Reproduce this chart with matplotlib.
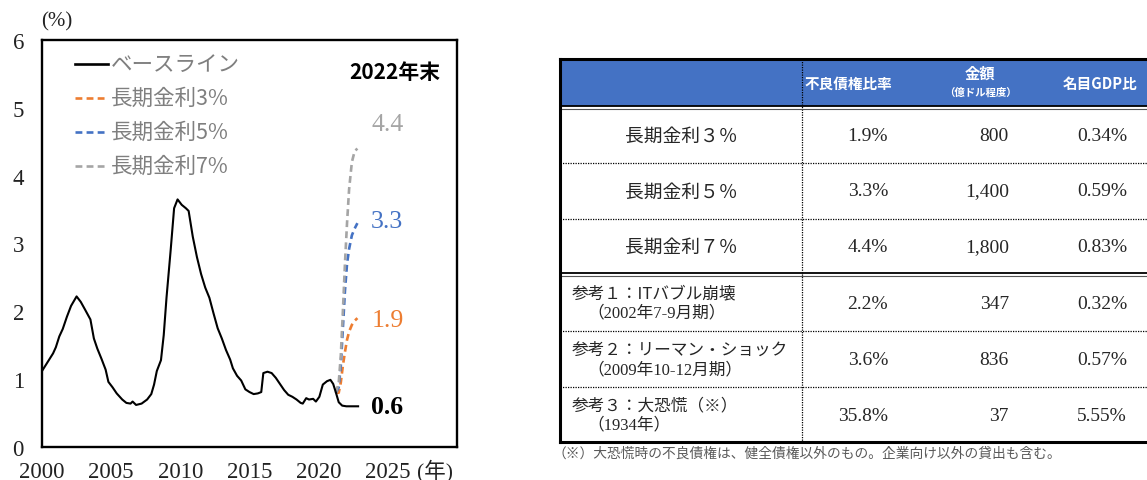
import matplotlib
matplotlib.use("Agg")
import matplotlib.pyplot as plt
from matplotlib.patches import Rectangle

plt.rcParams['font.family'] = ['Noto Sans CJK JP', 'DejaVu Sans']
SERIF = ['Liberation Serif', 'Noto Sans CJK JP']
SANS = ['Noto Sans CJK JP', 'DejaVu Sans']

# ---- Non-performing loan ratio, baseline (%) ----
base_year = [2000.00, 2000.40, 2000.80, 2001.00, 2001.25, 2001.50, 2001.80, 2002.10,
             2002.50, 2002.80, 2003.10, 2003.50, 2003.75, 2004.00, 2004.30, 2004.60,
             2004.80, 2005.10, 2005.40, 2005.80, 2006.10, 2006.40, 2006.55, 2006.80,
             2007.20, 2007.60, 2007.90, 2008.10, 2008.30, 2008.60, 2008.80, 2009.00,
             2009.30, 2009.55, 2009.80, 2010.10, 2010.40, 2010.60, 2010.90, 2011.20,
             2011.50, 2011.80, 2012.10, 2012.40, 2012.70, 2013.00, 2013.30, 2013.60,
             2013.80, 2014.10, 2014.40, 2014.70, 2015.00, 2015.30, 2015.60, 2015.85,
             2016.00, 2016.30, 2016.60, 2016.90, 2017.20, 2017.50, 2017.80, 2018.10,
             2018.40, 2018.70, 2018.85, 2019.10, 2019.30, 2019.60, 2019.80, 2020.05,
             2020.30, 2020.60, 2020.85, 2021.05, 2021.25, 2021.45, 2021.70, 2022.00,
             2022.40, 2022.85]
base_val = [1.12, 1.25, 1.38, 1.47, 1.63, 1.74, 1.92, 2.08,
            2.22, 2.14, 2.03, 1.88, 1.60, 1.45, 1.30, 1.14,
            0.96, 0.88, 0.79, 0.70, 0.65, 0.64, 0.67, 0.62,
            0.64, 0.70, 0.78, 0.92, 1.12, 1.28, 1.65, 2.20,
            2.90, 3.52, 3.65, 3.57, 3.52, 3.48, 3.10, 2.80,
            2.55, 2.35, 2.20, 1.97, 1.75, 1.60, 1.43, 1.29,
            1.16, 1.05, 0.98, 0.85, 0.81, 0.78, 0.79, 0.81,
            1.09, 1.11, 1.09, 1.02, 0.93, 0.84, 0.77, 0.74,
            0.70, 0.65, 0.64, 0.72, 0.70, 0.71, 0.67, 0.74,
            0.92, 0.97, 0.99, 0.93, 0.80, 0.66, 0.61, 0.60,
            0.60, 0.60]

# ---- Stress scenarios (long-term rate shocks) ----
scen_year = [2021.25, 2021.45, 2021.60, 2021.75, 2021.90, 2022.05, 2022.20, 2022.40, 2022.60, 2022.80]
rate3 = [0.80, 0.80, 0.95, 1.20, 1.40, 1.58, 1.70, 1.80, 1.86, 1.90]
rate5 = [0.80, 0.88, 1.20, 1.75, 2.30, 2.70, 2.92, 3.12, 3.22, 3.30]
rate7 = [0.80, 0.95, 1.35, 2.00, 2.70, 3.30, 3.80, 4.20, 4.36, 4.40]

series_labels = ["ベースライン", "長期金利3%", "長期金利5%", "長期金利7%"]
series_colors = ["#000000", "#ED7D31", "#4472C4", "#A5A5A5"]

x_ticks = [2000, 2005, 2010, 2015, 2020, 2025]
y_ticks = [0, 1, 2, 3, 4, 5, 6]

# ---- Table ----
col_headers = ["不良債権比率", "金額", "名目GDP比"]
amount_unit = "（億ドル程度）"
row_titles = ["長期金利３％", "長期金利５％", "長期金利７％",
              "参考１：ITバブル崩壊", "参考２：リーマン・ショック", "参考３：大恐慌（※）"]
row_periods = ["", "", "", "（2002年7-9月期）", "（2009年10-12月期）", "（1934年）"]
npl_ratio = [1.9, 3.3, 4.4, 2.2, 3.6, 35.8]
amount = [800, 1400, 1800, 347, 836, 37]
gdp_ratio = [0.34, 0.59, 0.83, 0.32, 0.57, 5.55]
footnote = "（※）大恐慌時の不良債権は、健全債権以外のもの。企業向け以外の貸出も含む。"

W, H = 1147, 481
fig = plt.figure(figsize=(W / 100, H / 100), dpi=100)
fig.patch.set_facecolor("white")

# ================= chart =================
ax = fig.add_axes([42 / W, (H - 448) / H, 415 / W, 407 / H])
ax.set_xlim(2000, 2030)
ax.set_ylim(0, 6)
ax.set_xticks(x_ticks)
ax.set_yticks(y_ticks)
ax.tick_params(length=0, labelsize=16.5, colors="#222222")
ax.tick_params(axis="y", pad=13)
ax.tick_params(axis="x", pad=10)
for lab in ax.get_xticklabels() + ax.get_yticklabels():
    lab.set_family(SERIF)
for sp in ax.spines.values():
    sp.set_linewidth(1.7)
    sp.set_color("#000000")

ax.plot(base_year, base_val, color=series_colors[0], lw=1.5, zorder=3)
for vals, col in zip([rate3, rate5, rate7], series_colors[1:]):
    ax.plot(scen_year, vals, color=col, lw=1.9, dashes=(2.6, 1.6), zorder=2)

# end-of-2022 values
end_vals = [base_val[-1], rate3[-1], rate5[-1], rate7[-1]]
label_offsets = [0.0, -0.03, 0.03, 0.36]
for v, off, col in zip(end_vals, label_offsets, series_colors):
    ax.text(2023.8, v + off, f"{v:.1f}", color=col, fontsize=18.5, family=SERIF,
            fontweight="bold" if col == "#000000" else "normal",
            ha="left", va="center")

ax.text(0.959, 0.923, "2022年末", transform=ax.transAxes, ha="right", va="center",
        fontsize=15, fontweight="bold", family=SANS, color="#000000")

# legend
leg_y = [0.941, 0.857, 0.774, 0.690]
for lbl, col, yy, i in zip(series_labels, series_colors, leg_y, range(4)):
    if i == 0:
        ax.plot([0.08, 0.158], [yy, yy], transform=ax.transAxes, color=col, lw=1.9)
    else:
        ax.plot([0.08, 0.158], [yy, yy], transform=ax.transAxes, color=col, lw=1.9,
                dashes=(2.6, 1.6))
    ax.text(0.166, yy, lbl, transform=ax.transAxes, ha="left", va="center",
            fontsize=15.5, color="#7F7F7F", family=SANS)

fig.text(41 / W, 1 - 22 / H, "(%)", ha="left", va="center", fontsize=15,
         family=SERIF, color="#222222")
fig.text(417 / W, 1 - 471 / H, "(年)", ha="left", va="center", fontsize=15.5,
         family=SERIF, color="#222222")

# ================= table =================
tab = fig.add_axes([0, 0, 1, 1])
tab.set_xlim(0, W)
tab.set_ylim(H, 0)
tab.axis("off")

left, right, top = 560, 1175, 60
col_div = 802
header_bot = 107
row_edges = [109, 164, 220, 275, 332, 388, 443]
val_right = [888, 1009, 1127]
header_x = [848, 980, 1100]

tab.add_patch(Rectangle((left, top), right - left, header_bot - top,
                        facecolor="#4472C4", edgecolor="none"))

# header text
tab.text(header_x[0], 84, col_headers[0], color="white", fontsize=10.5,
         fontweight="bold", ha="center", va="center", family=SANS)
tab.text(header_x[1], 74, col_headers[1], color="white", fontsize=11,
         fontweight="bold", ha="center", va="center", family=SANS)
tab.text(header_x[1], 93, amount_unit, color="white", fontsize=7.5,
         fontweight="bold", ha="center", va="center", family=SANS)
tab.text(header_x[2], 84, col_headers[2], color="white", fontsize=10.5,
         fontweight="bold", ha="center", va="center", family=SANS)

# grid lines
dot = dict(color="#000000", lw=0.9, linestyle=(0, (1, 1)))
for yy in [164, 220, 332, 388]:
    tab.plot([left, right], [yy, yy], **dot)
tab.plot([col_div, col_div], [top, 443], **dot)
for yy in [107, 274]:
    tab.plot([left, right], [yy, yy], color="#000000", lw=1.3)
    tab.plot([left, right], [yy + 2.8, yy + 2.8], color="#555555", lw=0.8)
tab.plot([left, right], [top, top], color="#000000", lw=2.2)
tab.plot([left, right], [443, 443], color="#000000", lw=2.2)
tab.plot([left, left], [top, 443], color="#000000", lw=2.2)

# body
for i in range(6):
    y0, y1 = row_edges[i], row_edges[i + 1]
    yc = (y0 + y1) / 2
    if row_periods[i]:
        tab.text(572, yc - 10, row_titles[i], fontsize=12, color="#262626",
                 ha="left", va="center", family=SANS)
        tab.text(587, yc + 10, row_periods[i], fontsize=12, color="#262626",
                 ha="left", va="center", family=SERIF)
        yv = yc + 1
    else:
        tab.text(681, yc, row_titles[i], fontsize=13.5, color="#262626",
                 ha="center", va="center", family=SANS)
        yv = yc
    cells = [f"{npl_ratio[i]:.1f}%", f"{amount[i]:,}", f"{gdp_ratio[i]:.2f}%"]
    for xr, s in zip(val_right, cells):
        tab.text(xr, yv, s, fontsize=14, color="#262626", ha="right",
                 va="center", family=SERIF)

tab.text(553, 454, footnote, fontsize=9.9, color="#595959", ha="left",
         va="center", family=SANS)

fig.savefig("out.png", dpi=100, facecolor="white")
